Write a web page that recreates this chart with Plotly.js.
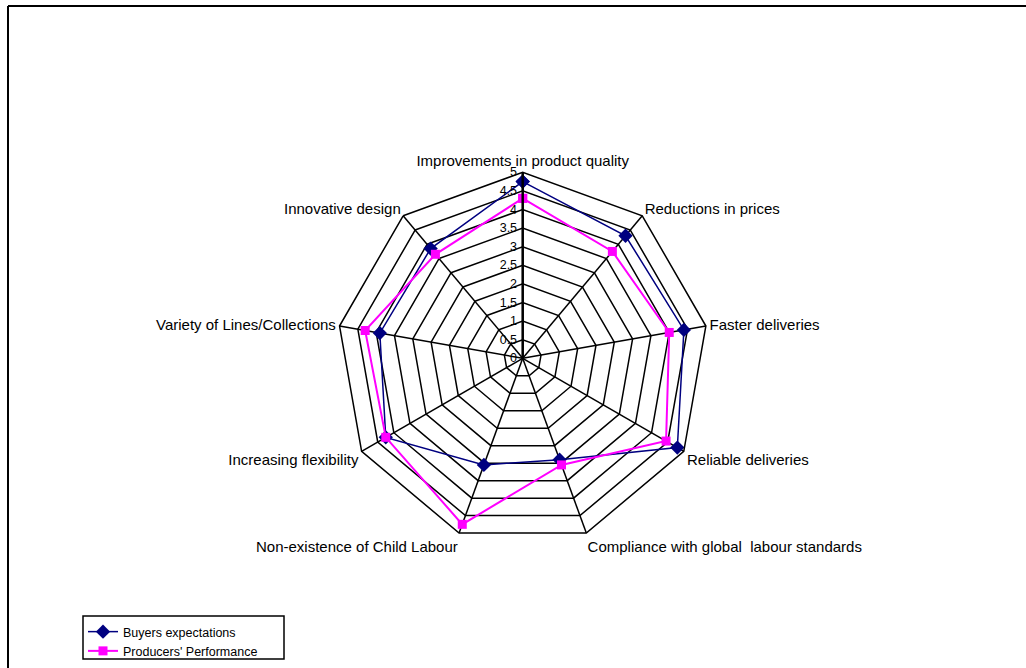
<!DOCTYPE html>
<html>
<head>
<meta charset="utf-8">
<script src="https://cdn.plot.ly/plotly-3.0.1.min.js"></script>
<style>html,body{margin:0;padding:0;background:#fff;}#chart{width:1026px;height:668px;}</style>
</head>
<body>
<div id="chart"></div>
<script>
var categories = [
  "Improvements in product quality",
  "Reductions in prices",
  "Faster deliveries",
  "Reliable deliveries",
  "Compliance with global  labour standards",
  "Non-existence of Child Labour",
  "Increasing flexibility",
  "Variety of Lines/Collections",
  "Innovative design"
];
var buyersExpectations = [4.75, 4.3, 4.4, 4.8, 2.9, 3.05, 4.25, 3.9, 3.85];
var producersPerformance = [4.3, 3.75, 4.0, 4.45, 3.05, 4.75, 4.25, 4.3, 3.65];
var radialTicks = [0, 0.5, 1, 1.5, 2, 2.5, 3, 3.5, 4, 4.5, 5];

function closeLoop(a) { return a.concat([a[0]]); }

var traces = [
  {
    type: "scatterpolar",
    name: "Buyers expectations",
    r: closeLoop(buyersExpectations),
    theta: closeLoop(categories),
    mode: "lines+markers",
    line: {color: "#000080", width: 1.5},
    marker: {symbol: "diamond", size: 11, color: "#000080"},
    cliponaxis: false
  },
  {
    type: "scatterpolar",
    name: "Producers' Performance",
    r: closeLoop(producersPerformance),
    theta: closeLoop(categories),
    mode: "lines+markers",
    line: {color: "#FF00FF", width: 2},
    marker: {symbol: "square", size: 9, color: "#FF00FF"},
    cliponaxis: false
  }
];

var cx = 522.7, cyTop = 358.3, R = 186;
var layout = {
  width: 1026,
  height: 668,
  margin: {l: 0, r: 0, t: 0, b: 0},
  paper_bgcolor: "#ffffff",
  plot_bgcolor: "#ffffff",
  font: {family: "Liberation Sans, Arial, sans-serif", color: "#000000"},
  showlegend: true,
  legend: {
    x: 83 / 1026, y: (668 - 617) / 668, xanchor: "left", yanchor: "top",
    bgcolor: "rgba(0,0,0,0)", borderwidth: 0,
    font: {size: 12.5, color: "#000000"},
    itemwidth: 30, tracegroupgap: 0
  },
  polar: {
    domain: {
      x: [(cx - R) / 1026, (cx + R) / 1026],
      y: [(668 - cyTop - R) / 668, (668 - cyTop + R) / 668]
    },
    bgcolor: "#ffffff",
    gridshape: "linear",
    angularaxis: {
      type: "category",
      categoryarray: categories,
      direction: "clockwise",
      rotation: 90,
      showline: true,
      linecolor: "#000000",
      linewidth: 1.5,
      gridcolor: "#000000",
      gridwidth: 1.5,
      ticks: "",
      tickfont: {size: 15, color: "#000000"}
    },
    radialaxis: {
      range: [0, 5],
      tickvals: radialTicks,
      ticktext: radialTicks.map(String),
      angle: 90,
      tickangle: 90,
      side: "counterclockwise",
      showline: true,
      linecolor: "#000000",
      linewidth: 2.5,
      gridcolor: "#000000",
      gridwidth: 1.5,
      ticks: "",
      tickfont: {size: 12.5, color: "#000000"}
    }
  },
  shapes: [
    {type: "line", xref: "paper", yref: "paper", x0: 8 / 1026, x1: 1.01, y0: (668 - 6) / 668, y1: (668 - 6) / 668, line: {color: "#000000", width: 2}},
    {type: "line", xref: "paper", yref: "paper", x0: 8 / 1026, x1: 8 / 1026, y0: -0.01, y1: (668 - 6) / 668, line: {color: "#000000", width: 2}},
    {type: "rect", xref: "paper", yref: "paper", x0: 83 / 1026, x1: 284 / 1026, y0: (668 - 659) / 668, y1: (668 - 616) / 668, line: {color: "#000000", width: 1.5}, fillcolor: "rgba(0,0,0,0)", layer: "below"}
  ]
};

Plotly.newPlot("chart", traces, layout, {displayModeBar: false, staticPlot: true});
</script>
</body>
</html>
